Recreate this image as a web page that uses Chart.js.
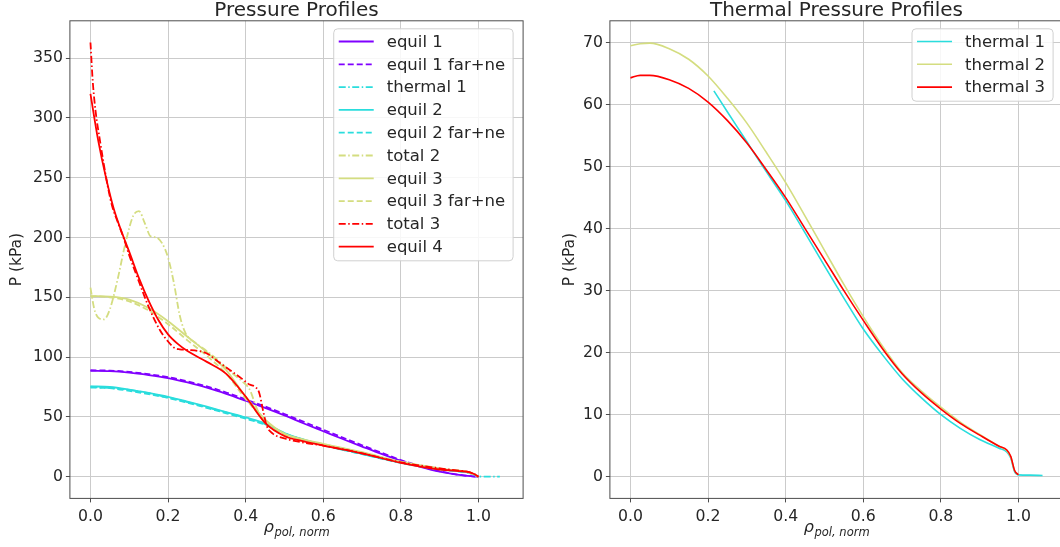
<!DOCTYPE html>
<html>
<head>
<meta charset="utf-8">
<script src="https://cdn.jsdelivr.net/npm/chart.js@4"></script>
<style>
  html, body { margin: 0; padding: 0; background: #fff; overflow: hidden; }
  #wrap { position: relative; width: 1060px; height: 547px; }
  canvas { position: absolute; top: 0; }
  #left { left: 0; }
  #right { left: 530px; }
</style>
</head>
<body>
<div id="wrap">
  <canvas id="left" width="530" height="547"></canvas>
  <canvas id="right" width="540" height="547"></canvas>
</div>
<script>
// tick labels
const xTicks = [0, 0.2, 0.4, 0.6, 0.8, 1.0];
const xTickLabels = ['0.0', '0.2', '0.4', '0.6', '0.8', '1.0'];
const leftYTicks = [0, 50, 100, 150, 200, 250, 300, 350];
const rightYTicks = [0, 10, 20, 30, 40, 50, 60, 70];

// ---- Pressure Profiles (left) ----
const equil1X = [0, 0.05, 0.1, 0.15, 0.2, 0.25, 0.3, 0.35, 0.4, 0.45, 0.5, 0.55, 0.6, 0.65, 0.7, 0.75, 0.8, 0.85, 0.9, 0.95, 0.98, 1.0];
const equil1Y = [88.5, 88.2, 87, 85, 82.5, 78.8, 74.5, 69.3, 63.5, 57.5, 51.2, 44.5, 38, 31.5, 25.2, 19, 13.2, 8.3, 4.2, 1.5, 0.4, 0];
const equil1FarY = [89, 88.7, 87.6, 85.7, 83.3, 79.7, 75.5, 70.4, 64.6, 58.7, 52.4, 45.8, 39.3, 32.7, 26.3, 20, 13.9, 8.8, 4.5, 1.6, 0.4, 0];

const thermal1LeftX = [0, 0.1, 0.2, 0.3, 0.4, 0.45, 0.5, 0.6, 0.7, 0.8, 0.9, 0.95, 0.97, 0.99, 1.0, 1.055];
const thermal1LeftY = [75.2, 72.5, 66.3, 58, 49, 44, 36.3, 26.4, 19, 11.6, 6.3, 4.5, 3.8, 1.5, 0.2, 0];

const equil2X = [0, 0.05, 0.1, 0.15, 0.2, 0.25, 0.3, 0.35, 0.4, 0.45, 0.5, 0.55, 0.6, 0.65, 0.7, 0.75, 0.8, 0.85, 0.9, 0.95, 0.97, 0.99, 1.0];
const equil2Y = [75.5, 75, 72.8, 70, 66.8, 62.8, 58.5, 54, 49.5, 44.5, 36.5, 31, 26.5, 22.8, 19, 15.3, 11.7, 8.8, 6.4, 4.5, 3.8, 1.8, 0];
const equil2FarY = [74.5, 74, 71.8, 69, 65.8, 61.8, 57.5, 53, 48.5, 43.5, 36, 30.6, 26.2, 22.5, 18.8, 15.1, 11.5, 8.6, 6.3, 4.4, 3.7, 1.7, 0];

const total2X = [0, 0.01, 0.02, 0.035, 0.05, 0.07, 0.09, 0.11, 0.125, 0.14, 0.155, 0.17, 0.185, 0.2, 0.215, 0.23, 0.245, 0.27, 0.3, 0.33, 0.36, 0.39, 0.41, 0.43, 0.45, 0.47, 0.5, 0.55, 0.6, 0.7, 0.8, 0.9, 0.97, 1.0];
const total2Y = [158, 140, 133, 131.5, 140, 165, 195, 218, 222, 212, 201, 200, 195, 183, 162, 135, 120, 112, 105, 97, 88, 80, 73, 56, 45, 40, 34, 29.5, 26.5, 20, 12, 6.5, 3.8, 0];

const equil3X = [0, 0.05, 0.1, 0.15, 0.2, 0.25, 0.3, 0.35, 0.4, 0.45, 0.5, 0.55, 0.6, 0.7, 0.8, 0.9, 0.95, 0.97, 0.99, 1.0];
const equil3Y = [151, 150.5, 148, 141, 130, 117, 104, 89, 67, 48, 36, 31, 27.5, 20.5, 12.5, 7, 5, 4.3, 2, 0];
const equil3FarY = [151, 150, 146.5, 139, 127.5, 114, 101, 86, 65, 47, 35.5, 30.5, 27.2, 20, 12.2, 6.8, 4.9, 4.2, 1.9, 0];

const total3X = [0, 0.006, 0.013, 0.025, 0.034, 0.045, 0.056, 0.069, 0.085, 0.1, 0.125, 0.15, 0.18, 0.2, 0.215, 0.23, 0.25, 0.28, 0.3, 0.33, 0.36, 0.39, 0.41, 0.425, 0.435, 0.445, 0.455, 0.47, 0.5, 0.55, 0.6, 0.7, 0.8, 0.9, 0.95, 0.97, 0.99, 1.0];
const total3Y = [363, 330, 306, 280, 262, 242, 226, 214, 200, 185, 163, 142, 122, 113, 108, 106.5, 106, 105, 103, 96, 89, 82, 77, 75, 70, 55, 42, 36, 32, 28.5, 26, 19.5, 12, 7, 5, 4.2, 2, 0];

const equil4X = [0, 0.01, 0.02, 0.04, 0.06, 0.08, 0.1, 0.125, 0.15, 0.175, 0.2, 0.225, 0.25, 0.3, 0.35, 0.4, 0.45, 0.5, 0.55, 0.6, 0.7, 0.8, 0.9, 0.95, 0.97, 0.98, 0.99, 1.0];
const equil4Y = [320, 300, 281, 250, 224, 205, 188, 166, 147, 131, 119, 111, 105, 96, 86, 67, 45, 34, 29.5, 26, 19.5, 11.6, 6, 4.7, 4.2, 3.5, 2, 0];

// ---- Thermal Pressure Profiles (right) ----
const thermal1X = [0.215, 0.25, 0.3, 0.335, 0.4, 0.45, 0.5, 0.55, 0.6, 0.65, 0.7, 0.75, 0.8, 0.85, 0.9, 0.95, 0.97, 0.98, 0.99, 1.0, 1.03, 1.062];
const thermal1Y = [62.2, 58.8, 54, 50.6, 44.5, 39.3, 34, 28.8, 23.8, 19.6, 15.8, 12.7, 10, 7.8, 6, 4.6, 4.0, 3.0, 0.8, 0.3, 0.25, 0.2];
const thermal23X = [0, 0.025, 0.05, 0.1, 0.15, 0.2, 0.25, 0.3, 0.35, 0.4, 0.45, 0.5, 0.55, 0.6, 0.65, 0.7, 0.75, 0.8, 0.85, 0.9, 0.95, 0.97, 0.98, 0.99, 1.0];
const thermal2Y = [69.5, 69.8, 69.9, 69, 67.3, 64.6, 61, 57, 52.3, 47.4, 42, 36.5, 31, 25.8, 21, 16.8, 13.8, 11.2, 8.8, 6.8, 4.9, 4.2, 3.2, 1, 0.3];
const thermal3Y = [64.3, 64.7, 64.7, 64, 62.6, 60.4, 57.4, 53.8, 49.5, 45, 40, 35, 30, 25.2, 20.6, 16.6, 13.5, 10.9, 8.6, 6.7, 4.9, 4.3, 3.3, 1, 0.3];

// rainbow colormap, 4 levels
const PURPLE = '#8000ff', CYAN = '#2adddd', YELLOW = '#d4dd80', RED = '#ff0000';
const SOLID = [], DASHED = [6, 3], DASHDOT = [7, 2.5, 1.5, 2.5];
const FONT = '"DejaVu Sans", sans-serif';
const TEXT = '#262626';
const GRID = '#cbcbcb';

function series(label, xs, ys, color, dash, width) {
    return {
        label: label,
        data: xs.map((x, i) => ({ x: x, y: ys[i] })),
        borderColor: color,
        borderDash: dash,
        borderWidth: width,
        pointRadius: 0,
        fill: false,
        cubicInterpolationMode: 'monotone'
    };
}

// draws frame, titles, math x label and a matplotlib-ish legend
const decor = (title, yTitleX) => ({
    id: 'decor',
    afterDraw(chart) {
        const ctx = chart.ctx, a = chart.chartArea;
        ctx.save();
        ctx.strokeStyle = '#4d4d4d';
        ctx.lineWidth = 1;
        ctx.strokeRect(a.left, a.top, a.right - a.left, a.bottom - a.top);

        const cx = (a.left + a.right) / 2;
        ctx.fillStyle = TEXT;
        ctx.textAlign = 'center';
        ctx.textBaseline = 'alphabetic';
        ctx.font = '20px ' + FONT;
        ctx.fillText(title, cx, 16);

        // rho_{pol,norm}
        ctx.font = 'italic 16px ' + FONT;
        const rhoW = ctx.measureText('ρ').width;
        ctx.font = 'italic 11.5px ' + FONT;
        const subW = ctx.measureText('pol, norm').width;
        let x0 = cx - (rhoW + subW) / 2;
        ctx.textAlign = 'left';
        ctx.font = 'italic 16px ' + FONT;
        ctx.fillText('ρ', x0, 532);
        ctx.font = 'italic 11.5px ' + FONT;
        ctx.fillText('pol, norm', x0 + rhoW + 0.5, 536);

        ctx.save();
        ctx.translate(yTitleX, (a.top + a.bottom) / 2);
        ctx.rotate(-Math.PI / 2);
        ctx.textAlign = 'center';
        ctx.textBaseline = 'middle';
        ctx.font = '15.5px ' + FONT;
        ctx.fillText('P (kPa)', 0, 0);
        ctx.restore();

        // legend
        const sets = chart.data.datasets;
        ctx.font = '16.5px ' + FONT;
        let maxW = 0;
        sets.forEach(d => { maxW = Math.max(maxW, ctx.measureText(d.label).width); });
        const rowH = 22.8;
        const boxW = 5 + 35 + 13 + maxW + 8;
        const boxH = sets.length * rowH + 4;
        const bx = a.right - 10 - boxW, by = a.top + 8;
        ctx.beginPath();
        ctx.roundRect(bx, by, boxW, boxH, 4);
        ctx.fillStyle = 'rgba(255,255,255,0.85)';
        ctx.fill();
        ctx.strokeStyle = '#d0d0d0';
        ctx.lineWidth = 1;
        ctx.stroke();
        sets.forEach((d, i) => {
            const ry = by + 12.7 + i * rowH;
            ctx.beginPath();
            ctx.setLineDash(d.borderDash);
            ctx.strokeStyle = d.borderColor;
            ctx.lineWidth = d.borderWidth;
            ctx.moveTo(bx + 5, ry);
            ctx.lineTo(bx + 40, ry);
            ctx.stroke();
            ctx.setLineDash([]);
            ctx.fillStyle = TEXT;
            ctx.textAlign = 'left';
            ctx.textBaseline = 'middle';
            ctx.fillText(d.label, bx + 53, ry + 1);
        });
        ctx.restore();
    }
});

function makeChart(id, datasets, yMin, yMax, yTicks, yWidth, title, yTitleX) {
    return new Chart(document.getElementById(id), {
        type: 'line',
        data: { datasets: datasets },
        options: {
            responsive: false,
            animation: false,
            devicePixelRatio: 1,
            layout: { padding: { top: 20.8, right: 6.9, left: 0, bottom: 0 } },
            plugins: { legend: { display: false }, tooltip: { enabled: false }, title: { display: false } },
            scales: {
                x: {
                    type: 'linear',
                    min: -0.053,
                    max: 1.115,
                    afterBuildTicks: s => { s.ticks = xTicks.map(v => ({ value: v })); },
                    afterFit: s => { s.height = 48.6; },
                    ticks: {
                        autoSkip: false, maxRotation: 0, padding: 5,
                        color: TEXT, font: { family: FONT, size: 15.7 },
                        callback: (v, i) => xTickLabels[i]
                    },
                    grid: { color: GRID, lineWidth: 1, tickLength: 4, tickColor: '#4d4d4d' },
                    border: { display: false }
                },
                y: {
                    type: 'linear',
                    min: yMin,
                    max: yMax,
                    afterBuildTicks: s => { s.ticks = yTicks.map(v => ({ value: v })); },
                    afterFit: s => { s.width = yWidth; },
                    ticks: {
                        autoSkip: false, padding: 3,
                        color: TEXT, font: { family: FONT, size: 15.7 },
                        callback: v => String(v)
                    },
                    grid: { color: GRID, lineWidth: 1, tickLength: 4, tickColor: '#4d4d4d' },
                    border: { display: false }
                }
            }
        },
        plugins: [decor(title, yTitleX)]
    });
}

// later datasets on top, like matplotlib
function stackOrder(list) {
    list.forEach((d, i) => { d.order = list.length - i; });
    return list;
}

const leftSets = stackOrder([
    series('equil 1', equil1X, equil1Y, PURPLE, SOLID, 1.8),
    series('equil 1 far+ne', equil1X, equil1FarY, PURPLE, DASHED, 1.8),
    series('thermal 1', thermal1LeftX, thermal1LeftY, CYAN, DASHDOT, 1.8),
    series('equil 2', equil2X, equil2Y, CYAN, SOLID, 1.8),
    series('equil 2 far+ne', equil2X, equil2FarY, CYAN, DASHED, 1.8),
    series('total 2', total2X, total2Y, YELLOW, DASHDOT, 1.8),
    series('equil 3', equil3X, equil3Y, YELLOW, SOLID, 1.8),
    series('equil 3 far+ne', equil3X, equil3FarY, YELLOW, DASHED, 1.8),
    series('total 3', total3X, total3Y, RED, DASHDOT, 1.8),
    series('equil 4', equil4X, equil4Y, RED, SOLID, 1.8)
]);

const rightSets = stackOrder([
    series('thermal 1', thermal1X, thermal1Y, CYAN, SOLID, 1.6),
    series('thermal 2', thermal23X, thermal2Y, YELLOW, SOLID, 1.6),
    series('thermal 3', thermal23X, thermal3Y, RED, SOLID, 1.6)
]);

makeChart('left', leftSets, -18.15, 381.15, leftYTicks, 69.9, 'Pressure Profiles', 17);
makeChart('right', rightSets, -3.5, 73.5, rightYTicks, 79.9, 'Thermal Pressure Profiles', 40);
</script>
</body>
</html>
